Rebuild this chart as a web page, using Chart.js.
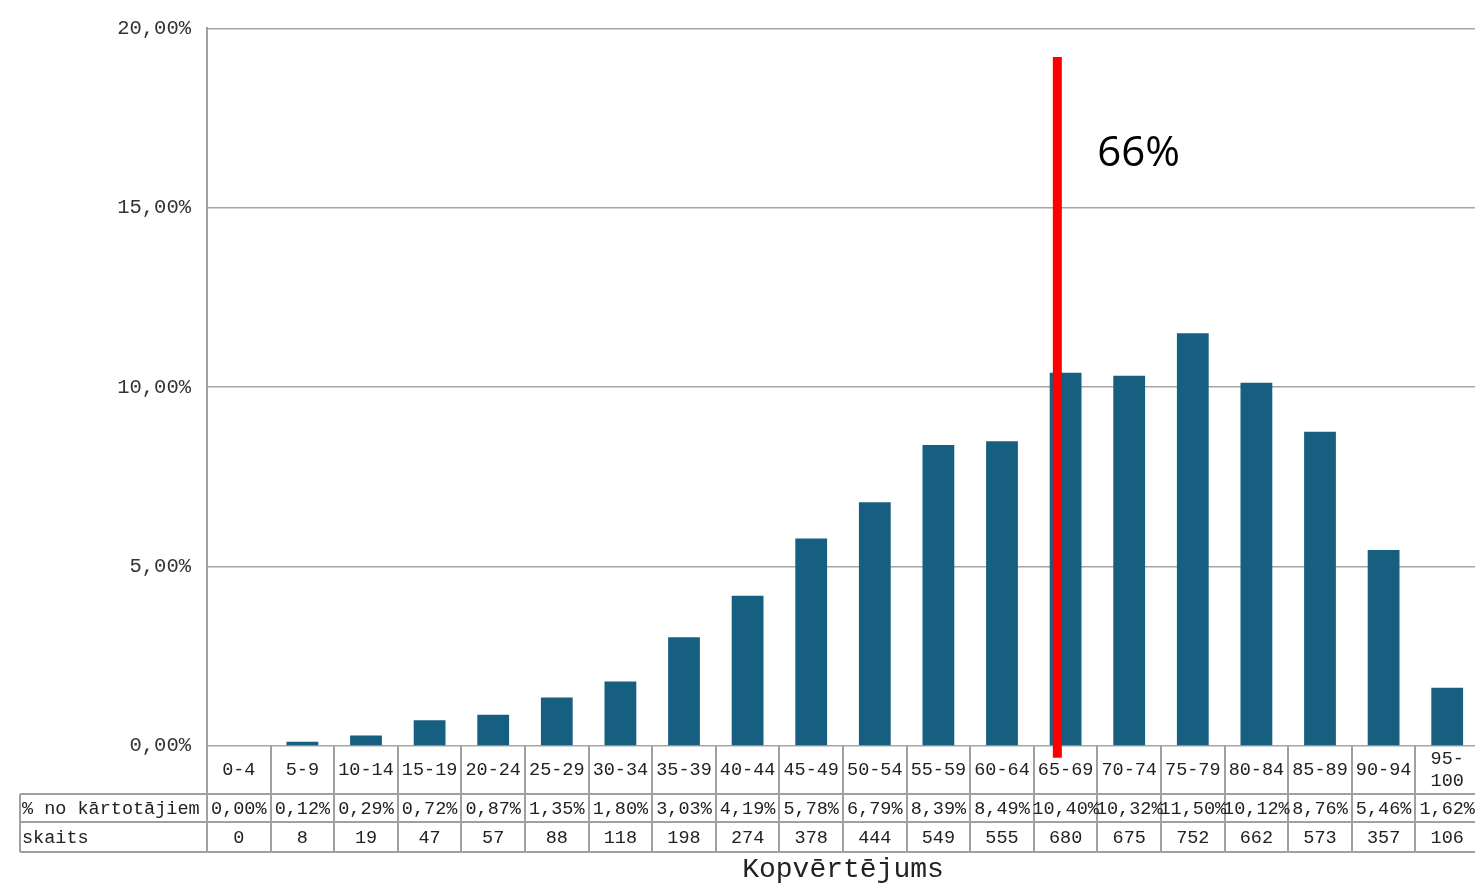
<!DOCTYPE html>
<html>
<head>
<meta charset="utf-8">
<script src="https://cdn.jsdelivr.net/npm/chart.js@4/dist/chart.umd.min.js"></script>
<style>
  html, body { margin: 0; padding: 0; background: #fff; overflow: hidden; }
  #wrap { width: 1480px; height: 884px; }
</style>
</head>
<body>
<div id="wrap"><canvas id="c" width="1480" height="884"></canvas></div>
<script>
// ---- data ----
const categories = ['0-4','5-9','10-14','15-19','20-24','25-29','30-34','35-39','40-44','45-49',
                    '50-54','55-59','60-64','65-69','70-74','75-79','80-84','85-89','90-94','95-100'];
const percentValues = [0.00,0.12,0.29,0.72,0.87,1.35,1.80,3.03,4.19,5.78,
                       6.79,8.39,8.49,10.40,10.32,11.50,10.12,8.76,5.46,1.62];
const counts = [0,8,19,47,57,88,118,198,274,378,444,549,555,680,675,752,662,573,357,106];
const yTicks = [0,5,10,15,20];
const rowLabels = ['% no kārtotājiem','skaits'];
const axisTitle = 'Kopvērtējums';
const markerLabel = '66%';
const markerScore = 66.85;      // position of the red line on the score scale
const binSize = 5;
const markerTop = 19.2;         // % value where the red line starts
const markerBottom = -0.33;     // slightly below the axis

const fmtPct = v => v.toFixed(2).replace('.', ',') + '%';
const MONO = '"Liberation Mono", "DejaVu Sans Mono", monospace';

const markerPlugin = {
  id: 'markerPlugin',
  afterDatasetsDraw(chart) {
    const ctx = chart.ctx;
    const mx = chart.scales.x.getPixelForValue(markerScore / binSize - 0.5);
    const y1 = chart.scales.y.getPixelForValue(markerTop);
    const y2 = chart.scales.y.getPixelForValue(markerBottom);
    ctx.save();
    ctx.strokeStyle = '#ff0000';
    ctx.lineWidth = 9;
    ctx.lineCap = 'butt';
    ctx.beginPath();
    ctx.moveTo(mx, y1); ctx.lineTo(mx, y2);
    ctx.stroke();
    ctx.font = '42px "Open Sans", "Liberation Sans", sans-serif';
    ctx.textAlign = 'left';
    ctx.textBaseline = 'middle';
    ctx.fillStyle = '#000';
    ctx.fillText(markerLabel, mx + 40, chart.scales.y.getPixelForValue(16.5));
    ctx.restore();
  }
};

const tablePlugin = {
  id: 'tablePlugin',
  afterDraw(chart) {
    const ctx = chart.ctx;
    const area = chart.chartArea;
    const n = categories.length;
    const cw = (area.right - area.left) / n;
    const top = area.bottom;
    const r1 = top + 48, r2 = r1 + 28, r3 = r2 + 30;
    const leftEdge = 20;
    ctx.save();
    ctx.strokeStyle = '#a0a0a0';
    ctx.lineWidth = 2;
    ctx.beginPath();
    ctx.moveTo(leftEdge, r1); ctx.lineTo(area.right, r1);
    ctx.moveTo(leftEdge, r2); ctx.lineTo(area.right, r2);
    ctx.moveTo(leftEdge, r3); ctx.lineTo(area.right, r3);
    ctx.moveTo(leftEdge, r1); ctx.lineTo(leftEdge, r3);
    for (let i = 0; i <= n; i++) {
      const x = Math.round(area.left + i * cw);
      ctx.moveTo(x, top); ctx.lineTo(x, r3);
    }
    ctx.stroke();

    ctx.fillStyle = '#222';
    ctx.font = '18.5px ' + MONO;
    ctx.textBaseline = 'middle';
    ctx.textAlign = 'center';
    const xs = chart.scales.x;
    for (let i = 0; i < n; i++) {
      const cx = xs.getPixelForValue(i);
      const lab = categories[i];
      if (lab.length > 5) {
        const parts = lab.split('-');
        ctx.fillText(parts[0] + '-', cx, top + 13);
        ctx.fillText(parts[1], cx, top + 35);
      } else {
        ctx.fillText(lab, cx, (top + r1) / 2);
      }
      ctx.fillText(fmtPct(percentValues[i]), cx, (r1 + r2) / 2 + 1);
      ctx.fillText(String(counts[i]), cx, (r2 + r3) / 2 + 1);
    }
    ctx.textAlign = 'left';
    ctx.fillText(rowLabels[0], 22, (r1 + r2) / 2 + 1);
    ctx.fillText(rowLabels[1], 22, (r2 + r3) / 2 + 1);

    ctx.textAlign = 'center';
    ctx.font = '28px ' + MONO;
    ctx.fillText(axisTitle, (area.left + area.right) / 2, r3 + 18);
    ctx.restore();
  }
};

new Chart(document.getElementById('c'), {
  type: 'bar',
  data: {
    labels: categories,
    datasets: [
      {
        data: percentValues,
        backgroundColor: '#175f81',
        borderWidth: 0,
        barPercentage: 0.5,
        categoryPercentage: 1.0
      }
    ]
  },
  options: {
    responsive: false,
    animation: false,
    layout: { padding: { top: 28, right: 1, bottom: 138, left: 0 } },
    plugins: { legend: { display: false }, tooltip: { enabled: false }, title: { display: false } },
    scales: {
      x: { display: false, offset: true, grid: { display: false } },
      y: {
        min: 0, max: 20,
        afterFit(scale) { scale.width = 207; },
        afterBuildTicks(scale) { scale.ticks = yTicks.map(v => ({ value: v })); },
        ticks: {
          padding: 16,
          color: '#333',
          font: { family: MONO, size: 20.5 },
          callback: v => fmtPct(v)
        },
        grid: { color: '#a6a6a6', lineWidth: 1.5, drawTicks: false },
        border: { color: '#a0a0a0', width: 2 }
      }
    }
  },
  plugins: [markerPlugin, tablePlugin]
});
</script>
</body>
</html>
